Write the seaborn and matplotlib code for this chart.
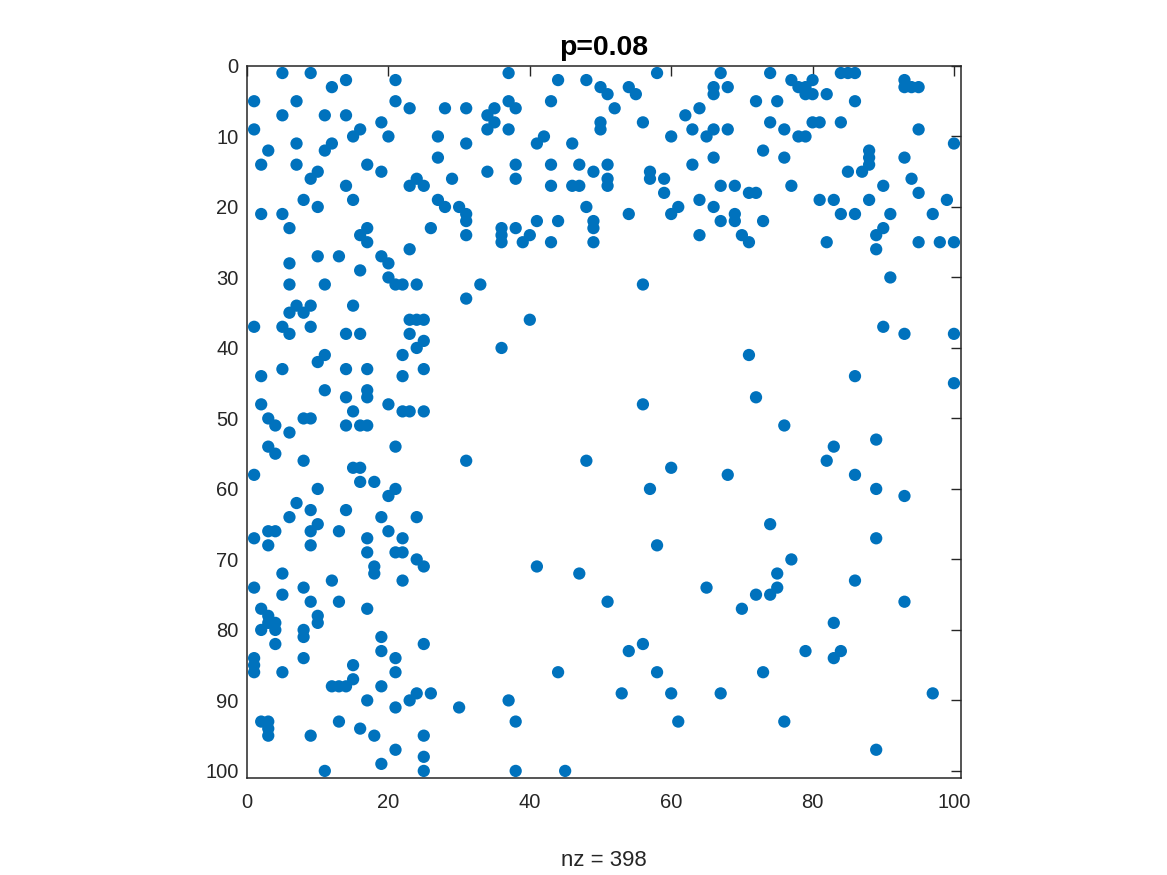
import matplotlib
matplotlib.use("Agg")
import matplotlib.pyplot as plt
import pandas as pd
import seaborn as sns

# 非零元素位置 (列, 行)，按区域读取
left_top = [(5, 1), (9, 1), (14, 2), (12, 3), (21, 2), (1, 5), (7, 5), (21, 5), (23, 6), (5, 7),
            (11, 7), (14, 7), (19, 8), (1, 9), (16, 9), (15, 10), (20, 10), (7, 11), (12, 11), (11, 12),
            (3, 12), (2, 14), (7, 14), (17, 14), (10, 15), (9, 16), (19, 15), (24, 16), (23, 17), (25, 17),
            (14, 17), (15, 19), (8, 19), (10, 20), (2, 21), (5, 21), (6, 23), (17, 23), (16, 24), (17, 25),
            (26, 23)]
left_upper = [(23, 26), (6, 28), (10, 27), (13, 27), (19, 27), (20, 28), (16, 29), (20, 30), (21, 31), (22, 31),
              (24, 31), (6, 31), (11, 31), (7, 34), (9, 34), (6, 35), (8, 35), (15, 34), (1, 37), (5, 37),
              (9, 37), (6, 38), (14, 38), (16, 38), (23, 36), (24, 36), (25, 36), (23, 38), (25, 39), (24, 40),
              (11, 41), (10, 42), (22, 41), (2, 44), (5, 43), (14, 43), (17, 43), (25, 43), (22, 44), (11, 46),
              (14, 47), (17, 46), (17, 47), (20, 48), (15, 49), (2, 48), (22, 49), (23, 49), (25, 49), (3, 50),
              (8, 50), (9, 50), (4, 51), (14, 51), (16, 51), (17, 51)]
left_lower = [(6, 52), (3, 54), (4, 55), (8, 56), (21, 54), (1, 58), (15, 57), (16, 57), (16, 59), (18, 59),
              (10, 60), (21, 60), (20, 61), (7, 62), (9, 63), (14, 63), (6, 64), (19, 64), (24, 64), (10, 65),
              (3, 66), (4, 66), (9, 66), (13, 66), (20, 66), (1, 67), (17, 67), (22, 67), (3, 68), (9, 68),
              (17, 69), (21, 69), (22, 69), (24, 70), (25, 71), (18, 71), (18, 72), (5, 72), (12, 73), (22, 73),
              (1, 74), (8, 74), (5, 75), (9, 76), (13, 76)]
left_bottom = [(17, 77), (2, 77), (3, 78), (3, 79), (4, 79), (2, 80), (4, 80), (10, 78), (10, 79), (8, 80),
               (8, 81), (19, 81), (4, 82), (25, 82), (1, 84), (1, 85), (1, 86), (5, 86), (8, 84), (19, 83),
               (21, 84), (21, 86), (15, 85), (15, 87), (12, 88), (13, 88), (14, 88), (19, 88), (24, 89), (23, 90),
               (26, 89), (17, 90), (21, 91), (2, 93), (3, 93), (3, 94), (3, 95), (13, 93), (16, 94), (18, 95),
               (9, 95), (25, 95), (21, 97), (25, 98), (19, 99), (11, 100), (25, 100)]
top_a = [(37, 1), (44, 2), (48, 2), (50, 3), (51, 4), (28, 6), (31, 6), (35, 6), (37, 5), (38, 6),
         (34, 7), (35, 8), (34, 9), (37, 9), (43, 5), (50, 8), (50, 9), (27, 10), (31, 11), (42, 10),
         (41, 11), (46, 11), (27, 13), (38, 14), (43, 14), (47, 14), (51, 14), (49, 15), (34, 15), (29, 16),
         (38, 16), (51, 16), (43, 17), (46, 17), (47, 17), (51, 17), (27, 19), (28, 20), (30, 20), (31, 21),
         (31, 22), (31, 24), (36, 23), (36, 24), (36, 25), (38, 23), (39, 25), (40, 24), (41, 22), (44, 22),
         (43, 25), (48, 20), (49, 22), (49, 23), (49, 25)]
top_b = [(58, 1), (67, 1), (74, 1), (77, 2), (54, 3), (55, 4), (66, 3), (66, 4), (68, 3), (52, 6),
         (72, 5), (75, 5), (62, 7), (64, 6), (56, 8), (63, 9), (66, 9), (68, 9), (65, 10), (60, 10),
         (74, 8), (76, 9), (73, 12), (66, 13), (76, 13), (63, 14), (57, 15), (57, 16), (59, 16), (59, 18),
         (67, 17), (69, 17), (71, 18), (72, 18), (77, 17), (64, 19), (61, 20), (60, 21), (54, 21), (66, 20),
         (67, 22), (69, 21), (69, 22), (73, 22), (64, 24), (70, 24), (71, 25)]
top_c = [(84, 1), (85, 1), (86, 1), (80, 2), (78, 3), (79, 3), (79, 4), (80, 4), (82, 4), (86, 5),
         (93, 2), (93, 3), (94, 3), (95, 3), (80, 8), (81, 8), (84, 8), (78, 10), (79, 10), (95, 9),
         (100, 11), (88, 12), (88, 13), (88, 14), (87, 15), (85, 15), (93, 13), (94, 16), (90, 17), (95, 18),
         (81, 19), (83, 19), (88, 19), (99, 19), (84, 21), (86, 21), (91, 21), (97, 21), (90, 23), (89, 24),
         (89, 26), (82, 25), (95, 25), (98, 25), (100, 25)]
mid_left = [(33, 31), (31, 33), (56, 31), (40, 36), (36, 40), (56, 48), (31, 56), (48, 56), (60, 57), (57, 60)]
mid_right = [(91, 30), (90, 37), (93, 38), (100, 38), (71, 41), (86, 44), (100, 45), (72, 47), (76, 51), (89, 53),
             (83, 54), (82, 56), (68, 58), (86, 58), (89, 60), (93, 61)]
low_left = [(41, 71), (47, 72), (58, 68), (51, 76), (56, 82), (54, 83), (44, 86), (58, 86), (53, 89), (60, 89),
            (30, 91), (37, 90), (38, 93), (61, 93), (38, 100), (45, 100)]
low_right = [(74, 65), (89, 67), (77, 70), (75, 72), (75, 74), (74, 75), (72, 75), (65, 74), (70, 77), (86, 73),
             (93, 76), (83, 79), (79, 83), (84, 83), (83, 84), (73, 86), (67, 89), (97, 89), (76, 93), (89, 97)]

title_text = "p=0.08"

all_pts = (left_top + left_upper + left_lower + left_bottom + top_a + top_b + top_c
           + mid_left + mid_right + low_left + low_right)
df = pd.DataFrame(all_pts, columns=["col", "row"])
nz = len(df)

sns.set_style("white")
plt.rcParams['font.family'] = ['Liberation Sans', 'DejaVu Sans']

fig = plt.figure(figsize=(11.67, 8.75), dpi=100)
ax = fig.add_axes([0.2117, 0.1109, 0.6118, 0.8137])

sns.scatterplot(data=df, x="col", y="row", ax=ax, s=78, color="#0072BD",
                edgecolor="none", linewidth=0, legend=False)

ax.set_xlim(0, 101)
ax.set_ylim(101, 0)
ax.set_xticks(range(0, 101, 20))
ax.set_yticks(range(0, 101, 10))
ax.tick_params(direction='in', length=7, width=1, top=True, right=True,
               labelsize=14.5, colors='#262626')
ax.tick_params(axis='x', pad=11)
ax.tick_params(axis='y', pad=6)
for sp in ax.spines.values():
    sp.set_visible(True)
    sp.set_color('#262626')
    sp.set_linewidth(1.1)

ax.set_title(title_text, fontsize=20.5, fontweight='bold', pad=8, color='black')
ax.set_xlabel(f"nz = {nz}", fontsize=16, color='#262626', labelpad=27)
ax.set_ylabel("")

fig.savefig("out.png", dpi=100)
